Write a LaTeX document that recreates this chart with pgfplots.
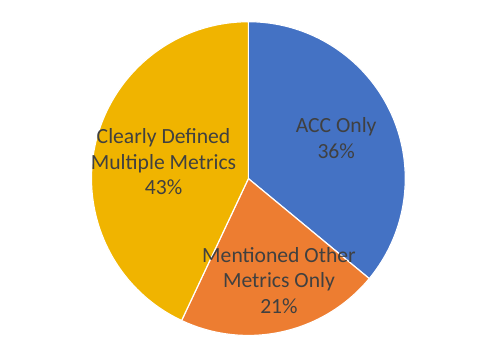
\documentclass[border=0pt]{standalone}
\usepackage{pgfplots}
\usepackage{pgfplotstable}
\pgfplotsset{compat=1.18}
\usepackage{fontspec}
\setmainfont{Carlito}

\definecolor{accblue}{HTML}{4472C4}
\definecolor{othorange}{HTML}{ED7D31}
\definecolor{multyellow}{HTML}{F0B400}
\definecolor{labelgray}{HTML}{404040}

% share of papers, percent (clockwise from 12 o'clock)
\pgfplotstableread{
slice value
ACC       36
Mentioned 21
Clearly   43
}\piedata

\begin{document}
\pgfplotstablegetelem{0}{value}\of\piedata \let\vA\pgfplotsretval
\pgfplotstablegetelem{1}{value}\of\piedata \let\vB\pgfplotsretval
\pgfplotstablegetelem{2}{value}\of\piedata \let\vC\pgfplotsretval
\pgfmathsetmacro\aA{90-3.6*\vA}
\pgfmathsetmacro\aB{\aA-3.6*\vB}
\pgfmathsetmacro\aC{\aB-3.6*\vC}
\begin{tikzpicture}
\begin{axis}[
    hide axis,
    scale only axis,
    x=1bp, y=1bp,
    xmin=-249, xmax=249,
    ymin=-178, ymax=178,
    clip=false
]
\path (axis cs:-249,-178) rectangle (axis cs:249,178);
\fill[accblue, draw=white, line width=1.2pt, line join=round]
    (axis cs:-4,-3) -- ++(90:159bp) arc[start angle=90, end angle=\aA, radius=159bp] -- cycle;
\fill[othorange, draw=white, line width=1.2pt, line join=round]
    (axis cs:-4,-3) -- ++(\aA:159bp) arc[start angle=\aA, end angle=\aB, radius=159bp] -- cycle;
\fill[multyellow, draw=white, line width=1.2pt, line join=round]
    (axis cs:-4,-3) -- ++(\aB:159bp) arc[start angle=\aB, end angle=\aC, radius=159bp] -- cycle;
\begin{scope}[every node/.style={align=center, text=labelgray,
    font=\fontsize{22}{26}\selectfont}]
\node at (axis cs:85,38) {ACC Only\\\vA\%};
\node at (axis cs:27,-106) {Mentioned Other\\Metrics Only\\\vB\%};
\node at (axis cs:-90,14) {Clearly Defined\\Multiple Metrics\\\vC\%};
\end{scope}
\end{axis}
\end{tikzpicture}
\end{document}
